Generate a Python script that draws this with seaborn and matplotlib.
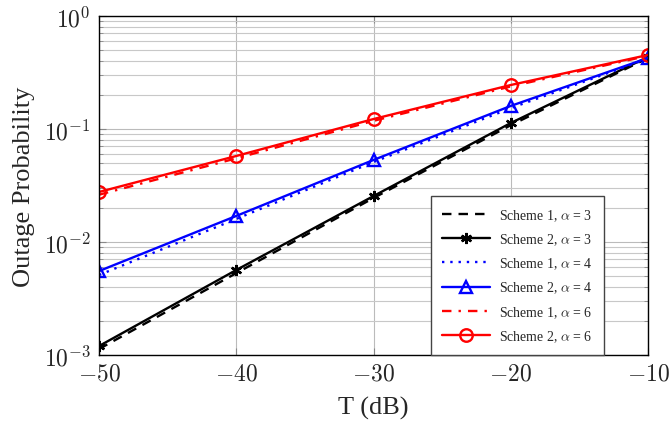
import matplotlib
matplotlib.use("Agg")
import matplotlib.pyplot as plt
import numpy as np
import pandas as pd
import seaborn as sns
from matplotlib.ticker import LogLocator, NullFormatter

T_db = [-50, -40, -30, -20, -10]

s1_a3 = [0.00113, 0.0053, 0.0245, 0.108, 0.425]
s2_a3 = [0.0012, 0.00565, 0.0255, 0.113, 0.434]
s1_a4 = [0.0051, 0.0160, 0.0510, 0.153, 0.42]
s2_a4 = [0.00553, 0.0170, 0.0532, 0.160, 0.425]
s1_a6 = [0.0262, 0.0550, 0.118, 0.238, 0.445]
s2_a6 = [0.0277, 0.0577, 0.1225, 0.245, 0.452]

series = [
    ("Scheme 1, $\\alpha$ = 3", s1_a3, "black", (0, (4, 3)), None),
    ("Scheme 2, $\\alpha$ = 3", s2_a3, "black", "-", (6, 2, 0)),
    ("Scheme 1, $\\alpha$ = 4", s1_a4, "blue", (0, (1, 2.5)), None),
    ("Scheme 2, $\\alpha$ = 4", s2_a4, "blue", "-", "^"),
    ("Scheme 1, $\\alpha$ = 6", s1_a6, "red", (0, (4, 3, 1, 3)), None),
    ("Scheme 2, $\\alpha$ = 6", s2_a6, "red", "-", "o"),
]

sns.set_style("ticks")
plt.rcParams["font.family"] = ["Liberation Serif", "DejaVu Serif"]
plt.rcParams["mathtext.fontset"] = "cm"

fig = plt.figure(figsize=(6.69, 4.27), dpi=100)
ax = fig.add_axes([0.148, 0.1663, 0.8206, 0.7939])

for label, vals, color, ls, marker in series:
    df = pd.DataFrame({"T": T_db, "P": vals})
    kw = dict(color=color, linewidth=1.7, linestyle=ls, label=label, ax=ax)
    if marker is not None:
        face = "none" if marker in ("o", "^") else color
        kw.update(marker=marker, markersize=9 if marker == "o" else 8,
                  markerfacecolor=face, markeredgecolor=color, markeredgewidth=1.7)
    sns.lineplot(data=df, x="T", y="P", **kw)

ax.set_yscale("log")
ax.set_xlim(-50, -10)
ax.set_ylim(1e-3, 1)
ax.set_xticks([-50, -40, -30, -20, -10])
ax.set_xticklabels([f"$-{abs(t)}$" for t in [50, 40, 30, 20, 10]])
ax.yaxis.set_major_locator(LogLocator(base=10, numticks=10))
ax.yaxis.set_minor_locator(LogLocator(base=10, subs=np.arange(2, 10), numticks=10))
ax.yaxis.set_minor_formatter(NullFormatter())
ax.set_yticks([1e-3, 1e-2, 1e-1, 1])
ax.set_yticklabels(["$10^{-3}$", "$10^{-2}$", "$10^{-1}$", "$10^{0}$"])

ax.grid(True, which="major", color="#bbbbbb", linewidth=0.8)
ax.grid(True, which="minor", axis="y", color="#c8c8c8", linewidth=0.8)
ax.tick_params(axis="both", which="both", direction="in", top=True, right=True,
               labelsize=17, color="#888888")
ax.tick_params(axis="both", which="major", length=5, pad=6)
ax.tick_params(axis="y", which="minor", length=3)
for sp in ax.spines.values():
    sp.set_linewidth(1.0)
    sp.set_color("black")

ax.set_xlabel("T (dB)", fontsize=19, labelpad=8)
ax.set_ylabel("Outage Probability", fontsize=19, labelpad=6)

leg = ax.legend(loc="lower right", bbox_to_anchor=(0.92, 0.0), borderaxespad=0,
                fontsize=10, frameon=True, fancybox=False, edgecolor="#444444",
                framealpha=1, handlelength=3.4, borderpad=0.8, labelspacing=0.62,
                handletextpad=0.7)
leg.get_frame().set_linewidth(1.0)

fig.savefig("out.png", dpi=100)
